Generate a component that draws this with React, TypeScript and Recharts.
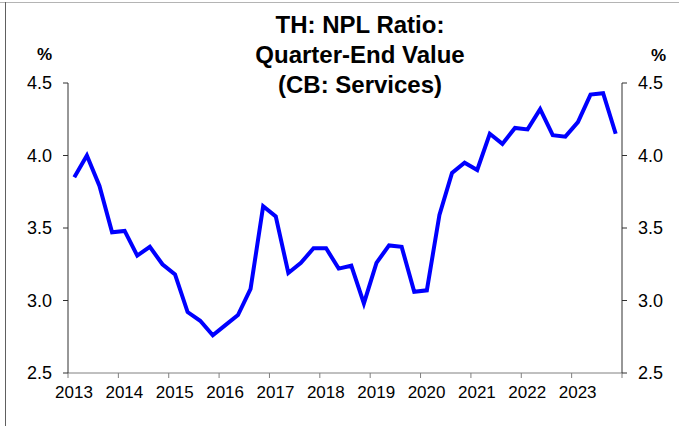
import { LineChart, Line, XAxis, YAxis } from "recharts"

const FONT = "'Liberation Sans', Arial, sans-serif"

const years = [2013, 2014, 2015, 2016, 2017, 2018, 2019, 2020, 2021, 2022, 2023]
const quarters = ["Q1", "Q2", "Q3", "Q4"]

// NPL ratio, % (quarter-end), 2013Q1 .. 2023Q4
const nplRatio = [
  3.85, 4.0, 3.79, 3.47,
  3.48, 3.31, 3.37, 3.25,
  3.18, 2.92, 2.86, 2.76,
  2.83, 2.9, 3.08, 3.65,
  3.58, 3.19, 3.26, 3.36,
  3.36, 3.22, 3.24, 2.98,
  3.26, 3.38, 3.37, 3.06,
  3.07, 3.59, 3.88, 3.95,
  3.9, 4.15, 4.08, 4.19,
  4.18, 4.32, 4.14, 4.13,
  4.23, 4.42, 4.43, 4.15,
]

const yTicks = [2.5, 3.0, 3.5, 4.0, 4.5]
const xTicks = [2013, 2014, 2015, 2016, 2017, 2018, 2019, 2020, 2021, 2022, 2023, 2024]

const data = nplRatio.map((value, i) => {
  const year = years[Math.floor(i / 4)]
  return {
    period: `${year}${quarters[i % 4]}`,
    t: year + ((i % 4) + 0.5) / 4,
    value,
  }
})

function YearTick({ x, y, payload }: { x: number; y: number; payload: { value: number } }) {
  // labels sit over the first quarter, last boundary has no label
  if (payload.value === 2024) return null
  return (
    <text x={x + 6} y={y + 18} textAnchor="middle" fontSize={17} fontFamily={FONT} fill="#000">
      {payload.value}
    </text>
  )
}

export default function App() {
  return (
    <div
      style={{
        position: "absolute",
        left: 0,
        top: 0,
        width: 679,
        height: 426,
        background: "#fff",
        fontFamily: FONT,
        overflow: "hidden",
      }}
    >
      <div style={{ position: "absolute", left: 0, top: 2, width: 679, height: 1, background: "#b4b4b4" }} />
      <div style={{ position: "absolute", left: 5, top: 2, width: 1, height: 424, background: "#606060" }} />

      <div
        style={{
          position: "absolute",
          left: 210,
          top: 10,
          width: 300,
          textAlign: "center",
          fontSize: 24,
          fontWeight: "bold",
          lineHeight: "30px",
          color: "#000",
        }}
      >
        TH: NPL Ratio:
        <br />
        Quarter-End Value
        <br />
        (CB: Services)
      </div>

      <div
        style={{
          position: "absolute",
          left: 0,
          top: 45,
          width: 52,
          textAlign: "right",
          fontSize: 17,
          fontWeight: "bold",
          lineHeight: "20px",
        }}
      >
        %
      </div>
      <div
        style={{
          position: "absolute",
          left: 566,
          top: 46,
          width: 100,
          textAlign: "right",
          fontSize: 17,
          fontWeight: "bold",
          lineHeight: "20px",
        }}
      >
        %
      </div>

      <LineChart width={679} height={426} data={data} margin={{ top: 83, right: 0, left: 0, bottom: 23 }}>
        <XAxis
          dataKey="t"
          type="number"
          domain={[2013, 2024]}
          ticks={xTicks}
          interval={0}
          tickSize={5}
          height={30}
          stroke="#808080"
          tick={YearTick}
        />
        <YAxis
          yAxisId="left"
          domain={[2.5, 4.5]}
          ticks={yTicks}
          interval={0}
          width={68}
          tickSize={5}
          tickMargin={11}
          stroke="#303030"
          tickFormatter={(v: number) => v.toFixed(1)}
          tick={{ fontSize: 18, fill: "#000", fontFamily: FONT }}
        />
        <YAxis
          yAxisId="right"
          orientation="right"
          domain={[2.5, 4.5]}
          ticks={yTicks}
          interval={0}
          width={57}
          tickSize={5}
          tickMargin={11}
          stroke="#303030"
          tickFormatter={(v: number) => v.toFixed(1)}
          tick={{ fontSize: 18, fill: "#000", fontFamily: FONT }}
        />
        {/* invisible copy so the right axis gets its ticks */}
        <Line
          yAxisId="right"
          dataKey="value"
          type="linear"
          stroke="none"
          strokeOpacity={0}
          dot={false}
          activeDot={false}
          isAnimationActive={false}
        />
        <Line
          yAxisId="left"
          dataKey="value"
          type="linear"
          stroke="#0000ff"
          strokeWidth={4}
          dot={false}
          isAnimationActive={false}
        />
      </LineChart>
    </div>
  )
}
